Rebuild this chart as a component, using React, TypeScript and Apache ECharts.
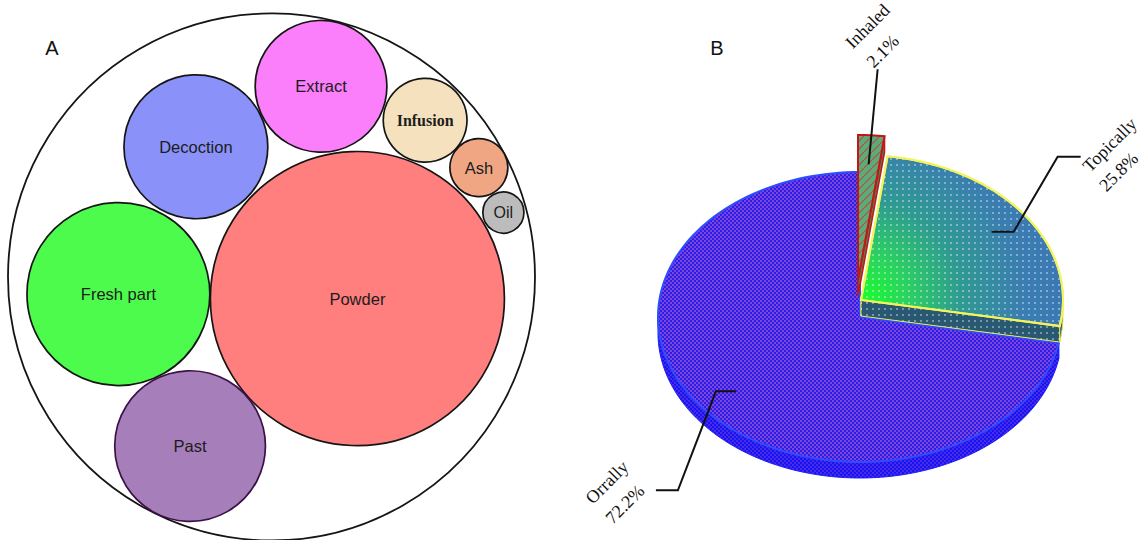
import { useEffect, useRef } from "react";
import * as echarts from "echarts";

// ---- Panel A: preparation forms (packed circles) ----
const formNames = ["Powder", "Fresh part", "Decoction", "Extract", "Past", "Infusion", "Ash", "Oil"];
const formRadius = [55.8, 34.7, 27.3, 25.0, 28.6, 15.9, 11.0, 7.8];
const formX = [32.6, -58.1, -28.7, 18.8, -30.9, 58.3, 78.7, 88.0];
const formY = [-8.2, -6.5, 49.5, 72.5, -64.3, 59.6, 41.6, 24.5];
const enclosureRadius = [100];

// ---- Panel B: routes of administration (3D pie) ----
const routeNames = ["Inhaled", "Topically", "Orrally"];
const routeShares = [2.1, 25.8, 72.2];

// colours / styles
const formColors = ["#ff7f7f", "#4dfb4d", "#8a92f9", "#fb7ffb", "#a67fba", "#f5e1bd", "#f0a683", "#bcbcbc"];
const formStroke = ["#151515", "#151515", "#151515", "#151515", "#3d1048", "#151515", "#151515", "#151515"];
const formFont = [
  '16.5px "Liberation Sans"', '16.5px "Liberation Sans"', '16.5px "Liberation Sans"', '16.5px "Liberation Sans"',
  '16.5px "Liberation Sans"', 'bold 16px "Liberation Serif"', '16.5px "Liberation Sans"', '16px "Liberation Sans"',
];

const PIE = { cx: 860, cy: 317, rx: 202, ry: 145, depth: 16 };
const routeExplode = [[-2, -37], [1, -17], [0, 0]];
const routeLayer = [2, 1, 0];
const leaderPaths = [
  [[9, -95]],
  [[22, 0], [66, -75], [89, -75]],
  [[-20, 0], [-58, 99], [-80, 99]],
];
const labelOffsets = [
  [[-10, -43], [5, -18]],
  [[29, -12], [38, 15]],
  [[-49, -8], [-31, 14]],
];

function tile(w: number, h: number, draw: (ctx: CanvasRenderingContext2D) => void) {
  const c = document.createElement("canvas");
  c.width = w;
  c.height = h;
  const ctx = c.getContext("2d")!;
  draw(ctx);
  return { image: c.toDataURL(), repeat: "repeat", imageWidth: w, imageHeight: h } as any;
}

function checker(a: string, b: string) {
  return tile(4, 4, (ctx) => {
    ctx.fillStyle = a;
    ctx.fillRect(0, 0, 4, 4);
    ctx.fillStyle = b;
    ctx.fillRect(0, 0, 2, 2);
    ctx.fillRect(2, 2, 2, 2);
  });
}

function hatch(base: string, line: string) {
  return tile(8, 8, (ctx) => {
    ctx.fillStyle = base;
    ctx.fillRect(0, 0, 8, 8);
    ctx.strokeStyle = line;
    ctx.lineWidth = 1.1;
    ctx.beginPath();
    ctx.moveTo(-1, 9);
    ctx.lineTo(9, -1);
    ctx.stroke();
  });
}

function dots() {
  return tile(6, 6, (ctx) => {
    ctx.fillStyle = "rgba(255,255,255,0.55)";
    ctx.beginPath();
    ctx.arc(3, 3, 0.9, 0, Math.PI * 2);
    ctx.fill();
  });
}

export default function App() {
  const ref = useRef<HTMLDivElement>(null);

  useEffect(() => {
    if (!ref.current) return;
    const chart = echarts.init(ref.current, null, { renderer: "svg" });

    const total = routeShares.reduce((s, v) => s + v, 0);
    const startAngles: number[] = [];
    let acc = 0;
    routeShares.forEach((v) => {
      startAngles.push((acc / total) * 360);
      acc += v;
    });

    const dotFill = dots();
    const topStyles = [
      { fill: hatch("#5dab7a", "#b5503a"), stroke: "#c41616", lineWidth: 2 },
      {
        fill: new echarts.graphic.RadialGradient(861, 300, 200, [
          { offset: 0, color: "#18ff2a" },
          { offset: 0.22, color: "#2bd45e" },
          { offset: 0.5, color: "#2f9a92" },
          { offset: 0.8, color: "#3a7eb0" },
          { offset: 1, color: "#3b78b4" },
        ], true),
        stroke: "#f4f45a",
        lineWidth: 2,
      },
      { fill: checker("#2a1ee8", "#7d45d8"), stroke: "#2d4dff", lineWidth: 2 },
    ];
    const sideStyles = [
      { fill: hatch("#3f8a5a", "#a9452f"), stroke: "#c41616", lineWidth: 1.5 },
      { fill: "#285872", stroke: "#e6e650", lineWidth: 1 },
      { fill: checker("#1414f4", "#4b2ae6"), stroke: "#1c1cff", lineWidth: 1 },
    ];

    const renderRoute = (params: any, api: any) => {
      const i = params.dataIndex;
      const share = api.value(0) as number;
      const a0 = startAngles[i];
      const a1 = a0 + (share / total) * 360;
      const [ox, oy] = routeExplode[i];
      const cx = PIE.cx + ox;
      const cy = PIE.cy + oy;
      const D = PIE.depth;
      const base = routeLayer[i] * 20;
      const pt = (deg: number, dy = 0, f = 1) => {
        const t = (deg * Math.PI) / 180;
        return [cx + PIE.rx * f * Math.sin(t), cy - PIE.ry * f * Math.cos(t) + dy];
      };
      const arc = (from: number, to: number, dy: number) => {
        const n = Math.max(2, Math.ceil(Math.abs(to - from) / 2));
        const pts: number[][] = [];
        for (let k = 0; k <= n; k++) pts.push(pt(from + ((to - from) * k) / n, dy));
        return pts;
      };
      const children: any[] = [];
      const side = sideStyles[i];
      for (const a of [a0, a1]) {
        const e = pt(a);
        const pts = [[cx, cy], e, [e[0], e[1] + D], [cx, cy + D]];
        children.push({ type: "polygon", z2: base + 1, shape: { points: pts }, style: side });
        if (i === 1) children.push({ type: "polygon", z2: base + 2, shape: { points: pts }, style: { fill: dotFill } });
      }
      const f0 = Math.max(a0, 90);
      const f1 = Math.min(a1, 270);
      if (f1 > f0) {
        const pts = [...arc(f0, f1, 0), ...arc(f1, f0, D)];
        children.push({ type: "polygon", z2: base + 3, shape: { points: pts }, style: side });
        if (i === 1) children.push({ type: "polygon", z2: base + 4, shape: { points: pts }, style: { fill: dotFill } });
      }
      const topPts = [[cx, cy], ...arc(a0, a1, 0)];
      children.push({ type: "polygon", z2: base + 5, shape: { points: topPts }, style: topStyles[i] });
      if (i === 1) {
        children.push({ type: "polygon", z2: base + 6, shape: { points: topPts }, style: { fill: dotFill } });
        children.push({
          type: "polygon", z2: base + 7, shape: { points: topPts },
          style: { fill: "none", stroke: "#f4f45a", lineWidth: 2 },
        });
      }

      // leader line and label
      const anchor = pt((a0 + a1) / 2, 0, 0.8);
      const path = [anchor, ...leaderPaths[i].map(([dx, dy]) => [anchor[0] + dx, anchor[1] + dy])];
      children.push({
        type: "polyline", z2: 100, shape: { points: path },
        style: { stroke: "#111", lineWidth: 2, fill: "none" },
      });
      const end = path[path.length - 1];
      const lines = [routeNames[i], `${share}%`];
      lines.forEach((txt, k) => {
        const [dx, dy] = labelOffsets[i][k];
        children.push({
          type: "text", z2: 100, x: end[0] + dx, y: end[1] + dy, rotation: Math.PI / 4,
          style: {
            text: txt, fill: "#111", font: '18px "Liberation Serif"',
            align: "center", verticalAlign: "middle",
          },
        });
      });
      return { type: "group", children };
    };

    const renderForm = (params: any, api: any) => {
      const i = params.dataIndex;
      const c = api.coord([api.value(0), api.value(1)]);
      const r = api.size([api.value(2), 0])[0];
      return {
        type: "group",
        children: [
          {
            type: "circle", shape: { cx: c[0], cy: c[1], r },
            style: { fill: formColors[i], stroke: formStroke[i], lineWidth: 1.7 },
          },
          {
            type: "text", x: c[0], y: c[1],
            style: {
              text: formNames[i], fill: "#1c1c1c", font: formFont[i],
              align: "center", verticalAlign: "middle",
            },
          },
        ],
      };
    };

    const renderEnclosure = (_params: any, api: any) => {
      const c = api.coord([api.value(0), api.value(1)]);
      const r = api.size([api.value(2), 0])[0];
      return {
        type: "circle", shape: { cx: c[0], cy: c[1], r },
        style: { fill: "#fff", stroke: "#151515", lineWidth: 1.8 },
      };
    };

    chart.setOption({
      animation: false,
      backgroundColor: "#ffffff",
      grid: { left: 8, top: 14, width: 527, height: 527 },
      xAxis: { type: "value", min: -100, max: 100, show: false },
      yAxis: { type: "value", min: -100, max: 100, show: false },
      graphic: [
        {
          type: "text", x: 52, y: 48,
          style: { text: "A", font: '20px "Liberation Sans"', fill: "#111", align: "center", verticalAlign: "middle" },
        },
        {
          type: "text", x: 717, y: 48,
          style: { text: "B", font: '20px "Liberation Sans"', fill: "#111", align: "center", verticalAlign: "middle" },
        },
      ],
      series: [
        {
          type: "custom", name: "Enclosure", coordinateSystem: "cartesian2d", z: 1,
          data: enclosureRadius.map((r) => [0, 0, r]),
          renderItem: renderEnclosure,
        },
        {
          type: "custom", name: "Forms", coordinateSystem: "cartesian2d", z: 2,
          data: formNames.map((n, i) => ({ name: n, value: [formX[i], formY[i], formRadius[i]] })),
          renderItem: renderForm,
        },
        {
          type: "custom", name: "Routes", coordinateSystem: "none", z: 2,
          data: routeShares.map((v, i) => ({ name: routeNames[i], value: v })),
          renderItem: renderRoute,
        },
      ],
    });

    return () => chart.dispose();
  }, []);

  return (
    <div
      ref={ref}
      style={{ position: "fixed", left: 0, top: 0, width: 1142, height: 540, background: "#fff" }}
    />
  );
}
